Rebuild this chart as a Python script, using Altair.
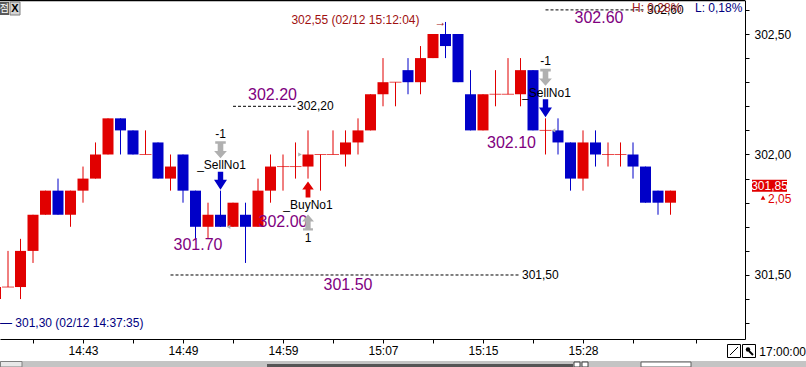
import altair as alt
import pandas as pd

# ---------------- data ----------------
bar_idx = list(range(-1, 54))
opens = [301.40,
         301.45, 301.45, 301.60, 301.75, 301.85, 301.75, 301.85, 301.90, 302.00, 302.15,
         302.10, 302.00, 302.05, 301.90, 302.00, 301.85, 301.70, 301.75, 301.70, 301.75,
         301.70, 301.85, 301.95, 301.95, 301.95, 302.00, 302.00, 302.00, 302.05, 302.10,
         302.25, 302.30, 302.35, 302.30, 302.40, 302.50, 302.50, 302.25, 302.10, 302.25,
         302.25, 302.25, 302.35, 302.10, 302.10, 302.05, 301.90, 302.05, 302.00, 302.00,
         302.00, 301.95, 301.85, 301.80]
highs = [301.45,
         301.60, 301.65, 301.75, 301.85, 301.90, 301.85, 301.95, 302.05, 302.15, 302.15,
         302.10, 302.10, 302.05, 302.00, 302.00, 301.85, 301.80, 301.85, 301.80, 301.80,
         301.90, 302.00, 302.00, 302.05, 302.10, 302.00, 302.10, 302.10, 302.15, 302.25,
         302.40, 302.30, 302.40, 302.45, 302.50, 302.55, 302.50, 302.35, 302.25, 302.35,
         302.40, 302.40, 302.35, 302.15, 302.15, 302.05, 302.10, 302.10, 302.05, 302.05,
         302.05, 301.95, 301.85, 301.85]
lows = [301.40,
        301.45, 301.40, 301.55, 301.75, 301.75, 301.70, 301.80, 301.90, 302.00, 302.00,
        302.00, 302.00, 301.90, 301.85, 301.80, 301.65, 301.65, 301.70, 301.70, 301.55,
        301.70, 301.80, 301.85, 301.90, 301.90, 301.85, 302.00, 301.95, 302.00, 302.10,
        302.20, 302.20, 302.25, 302.25, 302.40, 302.40, 302.30, 302.10, 302.10, 302.20,
        302.25, 302.20, 302.10, 302.00, 302.00, 301.85, 301.85, 301.95, 301.95, 301.95,
        301.90, 301.80, 301.75, 301.75]
closes = [301.45,
          301.45, 301.60, 301.75, 301.85, 301.75, 301.85, 301.90, 302.00, 302.15, 302.10,
          302.00, 302.00, 301.90, 301.95, 301.85, 301.70, 301.75, 301.70, 301.80, 301.70,
          301.85, 301.95, 301.95, 301.95, 302.00, 302.00, 302.00, 302.05, 302.10, 302.25,
          302.30, 302.30, 302.30, 302.40, 302.50, 302.45, 302.30, 302.10, 302.25, 302.25,
          302.25, 302.35, 302.10, 302.10, 302.05, 301.90, 302.05, 302.00, 302.00, 302.00,
          301.95, 301.80, 301.80, 301.85]

# x-axis ticks (bar index) and time labels
tick_bars = [2, 6, 10, 14, 18, 22, 26, 30, 34, 38, 42, 46, 50, 55]
label_bars = [6, 14, 22, 30, 38, 46]
label_times = ["14:43", "14:49", "14:59", "15:07", "15:15", "15:28"]
price_ticks = [301.3, 301.4, 301.5, 301.6, 301.7, 301.8, 301.9, 302.0,
               302.1, 302.2, 302.3, 302.4, 302.5, 302.6]

# dashed price levels
lvl_price = [302.20, 301.50, 302.60]
lvl_from = [18, 13, 43]
lvl_to = [23, 41, 51]
lvl_text = ["302,20", "301,50", "302,60"]

# purple price notes
note_text = ["302.20", "301.50", "302.60", "302.10", "302.00", "301.70"]
note_bar = [21.16, 27.2, 47.28, 40.28, 22.0, 15.2]
note_price = [302.247, 301.4585, 302.566, 302.048, 301.72, 301.625]

# signals
sell_bars = [17, 43]
buy_bars = [24]

last_close = 301.85
last_change = "2,05"

# ---------------- styles ----------------
RED = "#e10000"
BLUE = "#0000c8"
GREY = "#b0b0b0"
PURPLE = "#800080"
FONT = "Liberation Sans, Arial, sans-serif"

W, H = 745, 339

df = pd.DataFrame({"k": bar_idx, "o": opens, "h": highs, "l": lows, "c": closes})
df["dir"] = ["down" if c < o else "up" for o, c in zip(opens, closes)]
bodies = df[df.o != df.c]
crosses = df[df.o == df.c]

xs = alt.Scale(domain=[-0.64, 58.96], nice=False, zero=False, padding=0)
ys = alt.Scale(domain=[301.2344, 302.6411], nice=False, zero=False, padding=0)

lab_expr = "".join(f"datum.value == {b} ? '{t}' : " for b, t in zip(label_bars, label_times)) + "''"
XAX = alt.Axis(values=tick_bars, labelExpr=lab_expr, title=None, grid=False, tickSize=4,
               labelFlush=False, labelOverlap=False, labelFont=FONT, labelFontSize=12,
               labelColor="black", domainColor="black", tickColor="black", labelPadding=2)
YAX = alt.Axis(orient="right", values=price_ticks,
               labelExpr="abs(datum.value*2 - round(datum.value*2)) < 0.001 ? replace(format(datum.value, '.2f'), '.', ',') : ''",
               title=None, grid=False, tickSize=4, labelFlush=False, labelOverlap=False,
               labelFont=FONT, labelFontSize=12, labelColor="black", domainColor="black",
               tickColor="black", labelPadding=5)


def X(f):
    return alt.X(f, type="quantitative", scale=xs, axis=XAX)


def Y(f):
    return alt.Y(f, type="quantitative", scale=ys, axis=YAX)


color = alt.Color("dir:N", scale=alt.Scale(domain=["up", "down"], range=[RED, BLUE]), legend=None)

base = alt.Chart(df)

wicks = base.mark_rule(strokeWidth=1, clip=True).encode(x=X("k"), y=Y("l"), y2="h", color=color)
body = alt.Chart(bodies).mark_bar(size=11, clip=True).encode(x=X("k"), y=Y("o"), y2="c", color=color)
cross = alt.Chart(crosses).mark_tick(orient="horizontal", size=12, thickness=1, clip=True, color=RED).encode(
    x=X("k"), y=Y("o"))

lv = pd.DataFrame({"p": lvl_price, "k0": lvl_from, "k1": lvl_to, "t": lvl_text})
lvl_lines = alt.Chart(lv).mark_rule(strokeDash=[3, 2], color="black", strokeWidth=1).encode(
    x=X("k0"), x2="k1", y=Y("p"))
lvl_labels = alt.Chart(lv).mark_text(align="left", baseline="middle", dx=1.5, font=FONT, fontSize=12,
                                     color="black").encode(x=X("k1"), y=Y("p"), text="t")

nt = pd.DataFrame({"t": note_text, "k": note_bar, "p": note_price})
notes = alt.Chart(nt).mark_text(font=FONT, fontSize=16, color=PURPLE, baseline="middle").encode(
    x=X("k"), y=Y("p"), text="t")

sell = df[df.k.isin(sell_bars)]
buy = df[df.k.isin(buy_bars)]

ARROW_DOWN = "M-0.3,-1 L0.3,-1 L0.3,-0.1 L0.72,-0.1 L0,1 L-0.72,-0.1 L-0.3,-0.1 Z"
ARROW_UP = "M0,-1 L0.72,0 L0.3,0 L0.3,1 L-0.3,1 L-0.3,0 L-0.72,0 Z"
GREY_DOWN = ("M-0.62,-1 L0.62,-1 L0.62,-0.7 L0.33,-0.7 L0.33,0.15 L0.75,0.15 L0,1 "
             "L-0.75,0.15 L-0.33,0.15 L-0.33,-0.7 L-0.62,-0.7 Z")
GREY_UP = ("M-0.62,1 L0.62,1 L0.62,0.7 L0.33,0.7 L0.33,-0.15 L0.75,-0.15 L0,-1 "
           "L-0.75,-0.15 L-0.33,-0.15 L-0.33,0.7 L-0.62,0.7 Z")

sc = alt.Chart(sell)
sell_layers = [
    sc.mark_text(dy=-57, font=FONT, fontSize=12, color="black", text="-1").encode(x=X("k"), y=Y("h")),
    sc.mark_point(shape=GREY_DOWN, filled=True, size=289, color=GREY, opacity=1, strokeWidth=0,
                  yOffset=-41).encode(x=X("k"), y=Y("h")),
    sc.mark_text(dy=-25.5, dx=1, font=FONT, fontSize=12, color="black", text="_SellNo1").encode(
        x=X("k"), y=Y("h")),
    sc.mark_point(shape=ARROW_DOWN, filled=True, size=324, color=BLUE, opacity=1, strokeWidth=0,
                  yOffset=-10).encode(x=X("k"), y=Y("h")),
    sc.mark_point(shape="triangle-left", filled=True, size=18, color=GREY, opacity=1, strokeWidth=0,
                  xOffset=8).encode(x=X("k"), y=Y("c")),
]
bc = alt.Chart(buy)
buy_layers = [
    bc.mark_point(shape=ARROW_UP, filled=True, size=256, color=RED, opacity=1, strokeWidth=0,
                  yOffset=11).encode(x=X("k"), y=Y("l")),
    bc.mark_text(dy=26, font=FONT, fontSize=12, color="black", text="_BuyNo1").encode(x=X("k"), y=Y("l")),
    bc.mark_point(shape=GREY_UP, filled=True, size=256, color=GREY, opacity=1, strokeWidth=0,
                  yOffset=44).encode(x=X("k"), y=Y("l")),
    bc.mark_text(dy=59, font=FONT, fontSize=12, color="black", text="1").encode(x=X("k"), y=Y("l")),
    bc.mark_point(shape="triangle-right", filled=True, size=18, color=GREY, opacity=1, strokeWidth=0,
                  xOffset=-8).encode(x=X("k"), y=Y("c")),
]

# high / low info
hi = df[df.h == df.h.max()].head(1)
hi_text = alt.Chart(hi).mark_text(align="right", baseline="middle", dx=-26, dy=-2, font=FONT, fontSize=12,
                                  color="#a01010", text="302,55 (02/12 15:12:04)").encode(x=X("k"), y=Y("h"))
hi_arrow = alt.Chart(hi).mark_text(align="right", baseline="middle", dx=1, dy=0, font=FONT, fontSize=12,
                                   color="#a01010", text="→").encode(x=X("k"), y=Y("h"))
lo_df = pd.DataFrame({"p": [301.30]})
lo_text = alt.Chart(lo_df).mark_text(align="left", baseline="middle", font=FONT, fontSize=12,
                                     color="#000080", text="— 301,30 (02/12 14:37:35)").encode(
    x=alt.value(0), y=Y("p"))

info = pd.DataFrame({"a": [1]})
ic = alt.Chart(info)
top_line = ic.mark_rule(color="black", strokeWidth=1.5).encode(x=alt.value(0), x2=alt.value(W), y=alt.value(0.5))
hl_text = [
    ic.mark_text(align="left", baseline="middle", font=FONT, fontSize=12, color="#a02020",
                 text="H: 0,28%").encode(x=alt.value(632), y=alt.value(8)),
    ic.mark_text(align="left", baseline="middle", font=FONT, fontSize=12, color="#000080",
                 text="L: 0,18%").encode(x=alt.value(695), y=alt.value(8)),
]
icon = [
    ic.mark_rect(color="#5a5a5a").encode(x=alt.value(0), x2=alt.value(9), y=alt.value(2), y2=alt.value(15)),
    ic.mark_text(font="Noto Sans CJK KR", fontSize=10, color="white", align="right", baseline="middle",
                 text="점").encode(x=alt.value(9), y=alt.value(8.5)),
    ic.mark_rect(fill="#d4d4d4", stroke="#808080", strokeWidth=1).encode(
        x=alt.value(10), x2=alt.value(20), y=alt.value(2), y2=alt.value(15)),
    ic.mark_text(font=FONT, fontSize=11, fontWeight="bold", color="black", text="X").encode(
        x=alt.value(15), y=alt.value(9)),
]

lc = alt.Chart(pd.DataFrame({"p": [last_close]}))
last_box = [
    lc.mark_rect(color=RED, yOffset=-11, y2Offset=1).encode(x=alt.value(752), x2=alt.value(787), y=Y("p"), y2="p"),
    lc.mark_text(font=FONT, fontSize=12, color="white", dy=-5, text="301,85").encode(x=alt.value(769.5), y=Y("p")),
    lc.mark_point(shape="triangle-up", filled=True, size=22, color=RED, opacity=1, strokeWidth=0,
                  yOffset=7).encode(x=alt.value(763), y=Y("p")),
    lc.mark_text(font=FONT, fontSize=12, color=RED, align="left", dy=8, text=last_change).encode(
        x=alt.value(768), y=Y("p")),
]

# bottom strip
bottom = [
    ic.mark_rect(color="#c4c4c4").encode(x=alt.value(0), x2=alt.value(806), y=alt.value(361), y2=alt.value(367)),
    ic.mark_rect(fill="#e8e8e8", stroke="#808080", strokeWidth=1).encode(
        x=alt.value(0.5), x2=alt.value(22), y=alt.value(361.5), y2=alt.value(367)),
    ic.mark_rect(color="#555555").encode(x=alt.value(267), x2=alt.value(573), y=alt.value(364), y2=alt.value(367)),
    ic.mark_rect(fill="white", stroke="#404040", strokeWidth=1).encode(
        x=alt.value(574), x2=alt.value(580), y=alt.value(362), y2=alt.value(367)),
    ic.mark_rect(fill="white", stroke="#404040", strokeWidth=1).encode(
        x=alt.value(582), x2=alt.value(588), y=alt.value(362), y2=alt.value(367)),
    ic.mark_rect(fill="white", stroke="#606060", strokeWidth=1).encode(
        x=alt.value(641), x2=alt.value(691), y=alt.value(362), y2=alt.value(367)),
    ic.mark_rect(fill="white", stroke="black", strokeWidth=1).encode(
        x=alt.value(727.5), x2=alt.value(740.5), y=alt.value(344.5), y2=alt.value(357.5)),
    ic.mark_rule(color="black", strokeWidth=1).encode(
        x=alt.value(730), x2=alt.value(738), y=alt.value(355), y2=alt.value(347)),
    ic.mark_rect(fill="white", stroke="black", strokeWidth=1).encode(
        x=alt.value(742.5), x2=alt.value(755.5), y=alt.value(344.5), y2=alt.value(357.5)),
    ic.mark_point(shape="circle", filled=True, size=20, color="black", opacity=1).encode(
        x=alt.value(748), y=alt.value(349.5)),
    ic.mark_rule(color="black", strokeWidth=2).encode(
        x=alt.value(749), x2=alt.value(753), y=alt.value(351), y2=alt.value(355)),
    ic.mark_text(font=FONT, fontSize=12, color="black", align="right", baseline="middle",
                 text="17:00:00").encode(x=alt.value(806), y=alt.value(352)),
]

chart = alt.layer(
    lvl_lines, lvl_labels, wicks, body, cross, notes,
    *sell_layers, *buy_layers, hi_text, hi_arrow, lo_text,
    top_line, *hl_text, *icon, *last_box, *bottom,
).properties(
    width=W, height=H,
    autosize=alt.AutoSizeParams(type="none"),
    padding={"left": 0, "top": 0, "right": 61, "bottom": 28},
    background="white",
).configure_view(stroke=None)

chart.save("out.html", embed_options={"renderer": "svg", "actions": False})
